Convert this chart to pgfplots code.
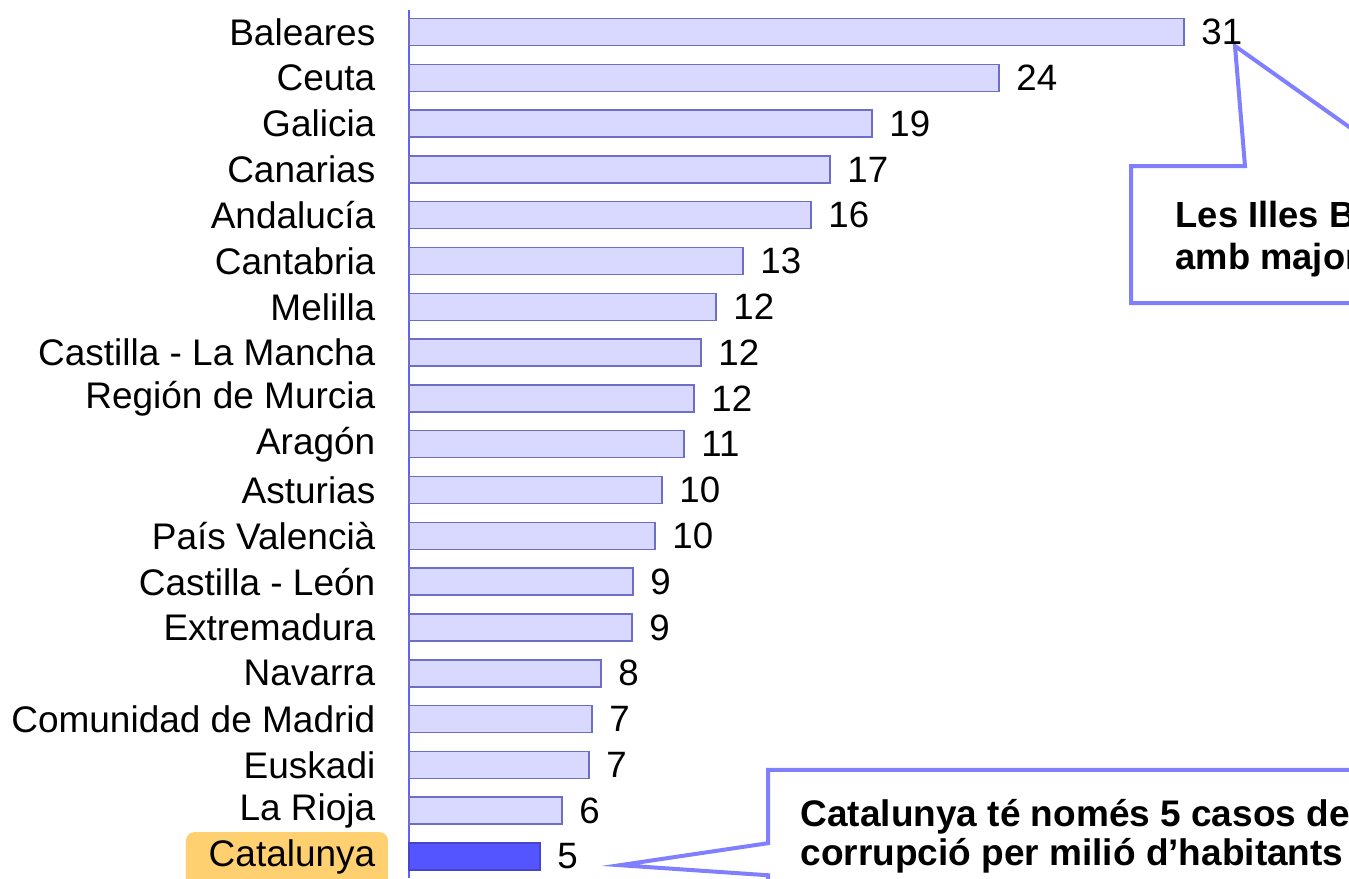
\documentclass[border=0pt]{standalone}
\usepackage{pgfplots}
\pgfplotsset{compat=1.18}
\usepackage{fontspec}
\setmainfont{Liberation Sans}
\definecolor{barfill}{RGB}{217,217,255}
\definecolor{baredge}{RGB}{110,110,200}
\definecolor{axisblue}{RGB}{96,96,255}
\definecolor{catfill}{RGB}{85,85,255}
\definecolor{callout}{RGB}{128,128,255}
\definecolor{hilite}{RGB}{255,208,112}

\begin{document}
\begin{tikzpicture}
\begin{axis}[
    name=ax,
    set layers,
    scale only axis,
    width=282pt, height=260.4pt,
    xmin=0, xmax=37.6,
    ymin=-0.48, ymax=18.47,
    y dir=reverse,
    axis x line=none,
    axis y line=left,
    axis line style={-, draw=axisblue, line width=0.6pt},
    ytick={0,...,18},
    yticklabels={Baleares, Ceuta, Galicia, Canarias, Andalucía, Cantabria, Melilla,
      Castilla - La Mancha, Región de Murcia, Aragón, Asturias, País Valencià,
      Castilla - León, Extremadura, Navarra, Comunidad de Madrid, Euskadi, La Rioja, Catalunya},
    major tick length=0pt,
    ytick style={draw=none},
    yticklabel style={font=\fontsize{11.1}{13}\selectfont, inner sep=0pt, xshift=-9.9pt},
    clip=false,
    point meta=explicit symbolic,
    nodes near coords,
    nodes near coords style={font=\fontsize{11}{13}\selectfont, anchor=west, inner sep=0pt, xshift=5pt},
]
\addplot[xbar, bar width=8.1pt, bar shift=0pt, fill=barfill, draw=baredge, line width=0.45pt]
coordinates {
    (31.0,0) [31]
    (23.6,1) [24]
    (18.52,2) [19]
    (16.84,3) [17]
    (16.08,4) [16]
    (13.36,5) [13]
    (12.28,6) [12]
    (11.68,7) [12]
    (11.4,8) [12]
    (11.0,9) [11]
    (10.12,10) [10]
    (9.84,11) [10]
    (8.96,12) [9]
    (8.92,13) [9]
    (7.68,14) [8]
    (7.32,15) [7]
    (7.2,16) [7]
    (6.12,17) [6]
};
\addplot[xbar, bar width=8.1pt, bar shift=0pt, fill=catfill, draw=catfill!80!black, line width=0.45pt]
coordinates {(5.24,18) [5]};

% highlight behind the Catalunya label
\begin{pgfonlayer}{axis background}
\fill[hilite, rounded corners=2.5pt] (axis cs:-8.92,17.47) rectangle (axis cs:-0.84,18.95);
\end{pgfonlayer}

% callouts
\draw[callout, line width=1.2pt, line join=miter]
  (axis cs:43.64,4.41) -- (axis cs:33.04,0.306) -- (axis cs:33.44,2.926)
  -- (axis cs:28.88,2.926) -- (axis cs:28.88,5.917) -- (axis cs:43.64,5.917);
\node[anchor=base west, inner sep=0pt, font=\fontsize{10.9}{12}\selectfont\bfseries]
  at (axis cs:30.64,4.279) {Les Illes Balears són la comunitat};
\node[anchor=base west, inner sep=0pt, font=\fontsize{10.9}{12}\selectfont\bfseries]
  at (axis cs:30.64,5.196) {amb major corrupció};

\draw[callout, line width=1.2pt, line join=miter]
  (axis cs:43.64,16.11) -- (axis cs:14.36,16.11) -- (axis cs:14.36,17.71)
  -- (axis cs:8.44,18.19) -- (axis cs:14.36,18.41) -- (axis cs:14.36,18.95);
\node[anchor=base west, inner sep=0pt, font=\fontsize{11.1}{12}\selectfont\bfseries]
  at (axis cs:15.64,17.34) {Catalunya té només 5 casos de};
\node[anchor=base west, inner sep=0pt, font=\fontsize{11.1}{12}\selectfont\bfseries]
  at (axis cs:15.64,18.19) {corrupció per milió d’habitants};
\end{axis}
\pgfresetboundingbox
\useasboundingbox ([xshift=-122.7pt]ax.south west) rectangle ([yshift=3pt]ax.north east);
\end{tikzpicture}
\end{document}
